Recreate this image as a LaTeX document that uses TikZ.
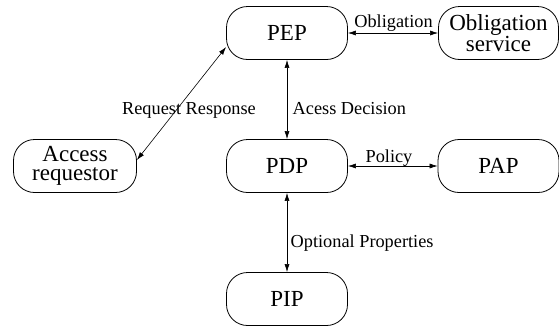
\documentclass[tikz,border=0pt]{standalone}
\usepackage{fontspec}
\setmainfont{Liberation Serif}
\usetikzlibrary{arrows.meta}
\begin{document}
\begin{tikzpicture}[x=1pt,y=-1pt,
  box/.style={draw, line width=0.8pt, rounded corners=21pt,
    minimum width=121pt, minimum height=53pt, inner sep=0pt,
    align=center, font=\fontsize{23}{19}\selectfont},
  link/.style={line width=0.6pt,
    {Latex[length=8pt,width=5pt]}-{Latex[length=8pt,width=5pt]}},
  lbl/.style={font=\fontsize{18.3}{20}\selectfont, inner sep=0pt}]
\useasboundingbox (0,0) rectangle (559,327);

% components
\node[box] (pep) at (287,33)  {PEP};
\node[box, minimum width=120pt] (obl) at (498.5,33) {Obligation\\service};
\node[box, minimum width=123pt] (ar)  at (75,166)  {Access\\requestor};
\node[box] (pdp) at (287,166) {PDP};
\node[box] (pap) at (498.5,166) {PAP};
\node[box] (pip) at (287,299) {PIP};

% interactions
\draw[link] (pep.east) -- (obl.west);
\draw[link] ([yshift=6pt]ar.east) -- ([yshift=-14pt]pep.west);
\draw[link] (pep.south) -- (pdp.north);
\draw[link] (pdp.east) -- (pap.west);
\draw[link] (pdp.south) -- (pip.north);

% labels
\node[lbl, anchor=base] (lobl) at (393.5,27) {Obligation};
\node[lbl, anchor=base] (lreq) at (189,114) {Request Response};
\node[lbl, anchor=base west] (ldec) at (292.5,114) {Acess Decision};
\node[lbl, anchor=base] (lpol) at (389,162.5) {Policy};
\node[lbl, anchor=base west] (lopt) at (290.5,247.5) {Optional Properties};
\end{tikzpicture}
\end{document}
